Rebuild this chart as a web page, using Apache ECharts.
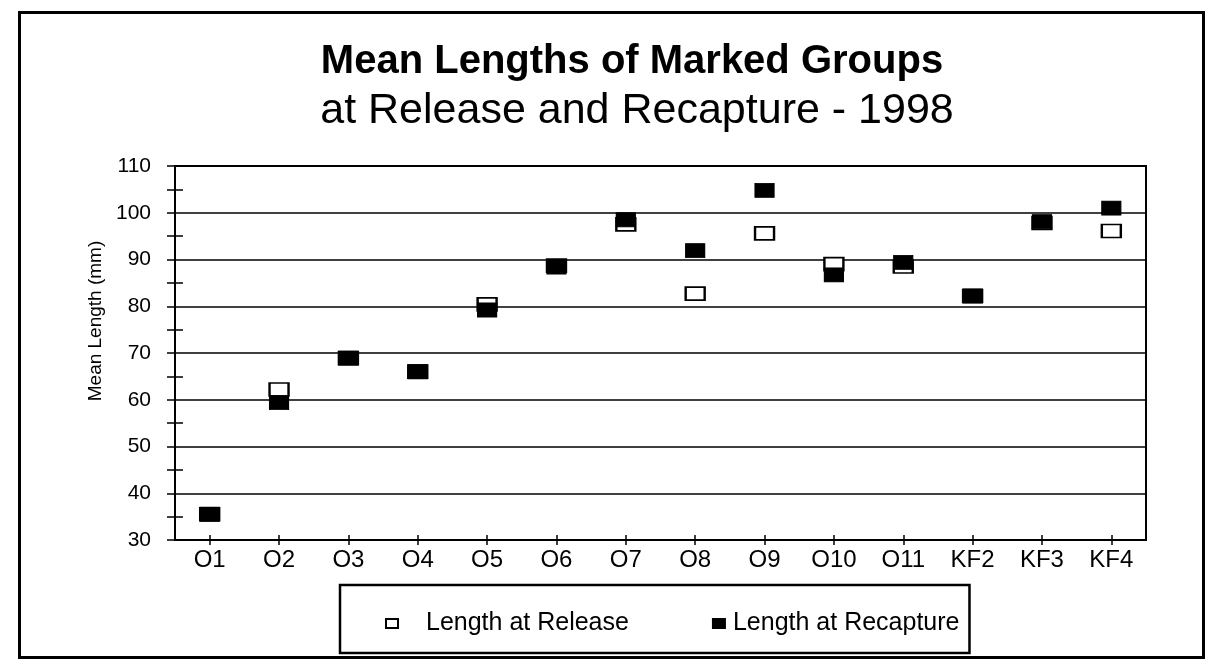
<!DOCTYPE html>
<html>
<head>
<meta charset="utf-8">
<script src="https://cdn.jsdelivr.net/npm/echarts@6/dist/echarts.min.js"></script>
<style>
  html, body { margin: 0; padding: 0; background: #fff; }
  #chart { width: 1208px; height: 672px; }
</style>
</head>
<body>
<div id="chart"></div>
<script>
const categories = ['O1', 'O2', 'O3', 'O4', 'O5', 'O6', 'O7', 'O8', 'O9', 'O10', 'O11', 'KF2', 'KF3', 'KF4'];
const releaseLengths = [35.5, 62.2, 68.9, 66.0, 80.4, 88.7, 97.5, 82.7, 95.6, 89.0, 88.5, 82.2, 97.8, 96.1];
const recaptureLengths = [35.5, 59.4, 68.9, 66.0, 79.2, 88.4, 98.5, 91.9, 104.8, 86.7, 89.4, 82.2, 98.1, 101.0];
const yMin = 30;
const yMax = 110;
const yInterval = 10;
const titleText = 'Mean Lengths of Marked Groups';
const subtitleText = 'at Release and Recapture - 1998';
const yAxisName = 'Mean Length (mm)';
const seriesNames = ['Length at Release', 'Length at Recapture'];

const FONT = 'Liberation Sans, Arial, sans-serif';
const chart = echarts.init(document.getElementById('chart'), null, { renderer: 'canvas' });

const option = {
  backgroundColor: '#ffffff',
  animation: false,
  title: [
    {
      text: titleText, left: 627, top: 37, textAlign: 'center',
      textStyle: { fontFamily: FONT, fontSize: 40, fontWeight: 'bold', color: '#000' }
    },
    {
      text: subtitleText, left: 632, top: 85, textAlign: 'center',
      textStyle: { fontFamily: FONT, fontSize: 43, fontWeight: 'normal', color: '#000' }
    }
  ],
  graphic: [
    {
      type: 'rect', left: 17, top: 10, z: -1, silent: true,
      shape: { width: 1184, height: 645 },
      style: { fill: 'none', stroke: '#000', lineWidth: 3 }
    }
  ],
  legend: {
    left: 340, top: 585,
    orient: 'horizontal',
    padding: [26, 10, 17, 45],
    itemWidth: 12, itemHeight: 9,
    itemGap: 83,
    borderColor: '#000', borderWidth: 2.5,
    backgroundColor: '#fff',
    textStyle: { fontFamily: FONT, fontSize: 25, color: '#000' },
    data: [
      { name: seriesNames[0], textStyle: { padding: [0, 0, 0, 23] } },
      { name: seriesNames[1], textStyle: { padding: [0, 0, 0, 3] } }
    ]
  },
  grid: {
    left: 175, right: 62, top: 166, bottom: 132,
    show: true, borderColor: '#000', borderWidth: 2, backgroundColor: 'transparent'
  },
  xAxis: [
    {
      type: 'category', data: categories, boundaryGap: true,
      axisLine: { show: true, lineStyle: { color: '#000', width: 2 } },
      axisTick: { show: true, alignWithLabel: true, length: 5, lineStyle: { color: '#000', width: 1.5 } },
      axisLabel: { fontFamily: FONT, fontSize: 24, color: '#000', margin: 8 },
      splitLine: { show: false }
    },
    {
      type: 'category', data: categories, boundaryGap: true, position: 'bottom',
      axisLine: { show: false },
      axisTick: { show: true, inside: true, alignWithLabel: true, length: 5, lineStyle: { color: '#000', width: 1.5 } },
      axisLabel: { show: false },
      splitLine: { show: false }
    }
  ],
  yAxis: [
    {
      type: 'value', min: yMin, max: yMax, interval: yInterval,
      name: yAxisName, nameLocation: 'middle', nameGap: 68, nameRotate: 90,
      nameTextStyle: { fontFamily: FONT, fontSize: 19, color: '#000', padding: [0, 0, 0, 64] },
      axisLine: { show: true, lineStyle: { color: '#000', width: 2 } },
      axisTick: { show: true, length: 8, lineStyle: { color: '#000', width: 1.5 } },
      minorTick: { show: true, splitNumber: 2, length: 8, lineStyle: { color: '#000', width: 1.5 } },
      axisLabel: { fontFamily: FONT, fontSize: 21, color: '#000', margin: 24 },
      splitLine: { show: true, lineStyle: { color: '#000', width: 1.5 } }
    },
    {
      type: 'value', min: yMin, max: yMax, interval: yInterval, position: 'left',
      axisLine: { show: false },
      axisTick: { show: false, inside: true },
      minorTick: { show: true, splitNumber: 2, length: 8, lineStyle: { color: '#000', width: 1.5 } },
      axisLabel: { show: false },
      splitLine: { show: false }
    }
  ],
  series: [
    {
      name: seriesNames[0], type: 'scatter', xAxisIndex: 0, yAxisIndex: 0,
      symbol: 'rect', symbolSize: [19, 13],
      itemStyle: { color: '#fff', borderColor: '#000', borderWidth: 2, opacity: 1 },
      data: releaseLengths, z: 2
    },
    {
      name: seriesNames[1], type: 'scatter', xAxisIndex: 0, yAxisIndex: 0,
      symbol: 'rect', symbolSize: [19, 14],
      itemStyle: { color: '#000', borderColor: '#000', borderWidth: 1, opacity: 1 },
      data: recaptureLengths, z: 3
    }
  ]
};

chart.setOption(option);
</script>
</body>
</html>
